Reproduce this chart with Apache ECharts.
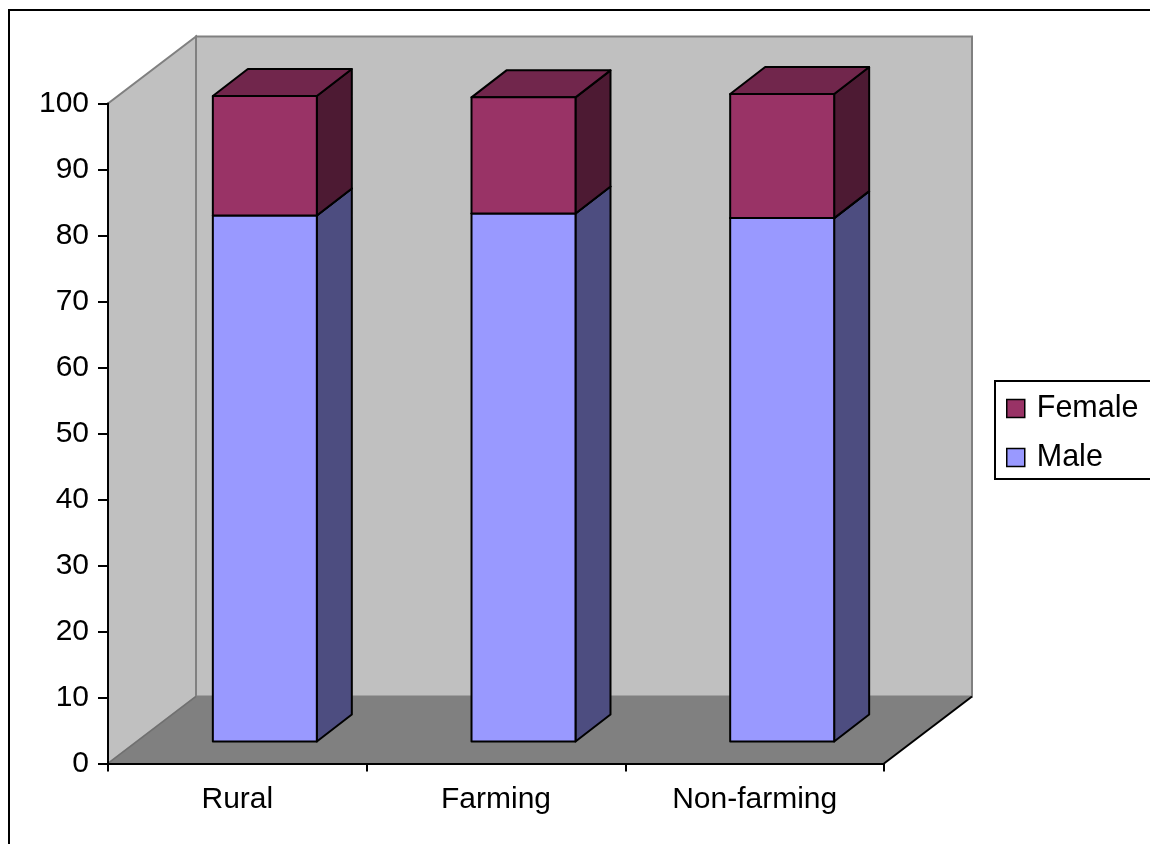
<!DOCTYPE html>
<html>
<head>
<meta charset="utf-8">
<script src="https://cdn.jsdelivr.net/npm/echarts@6/dist/echarts.min.js"></script>
<style>
  html, body { margin: 0; padding: 0; background: #fff; }
  #chart { width: 1150px; height: 844px; }
</style>
</head>
<body>
<div id="chart"></div>
<script>
// Share of male and female members by area type (%)
const CATEGORIES = ['Rural', 'Farming', 'Non-farming'];
const MALE = [79.7, 80.0, 79.3];
const FEMALE = [18.1, 17.6, 18.8];
const Y_MIN = 0, Y_MAX = 100, Y_STEP = 10;

const FONT = "'Liberation Sans', Arial, sans-serif";

// pseudo-3D geometry (pixel offsets of the depth direction)
const WALL_DEPTH = [88, -67];
const BAR_FRONT = [27.5, -22];
const BAR_DEPTH = [35, -27];
const BAR_RATIO = 0.402;

const MALE_COLORS = { front: '#9999FF', side: '#4D4D80', top: '#7373BF' };
const FEMALE_COLORS = { front: '#993366', side: '#4D1A33', top: '#71264C' };

// back wall, side wall and floor of the box
function renderWalls(params, api) {
  const n = CATEGORIES.length;
  const band = api.size([1, 0])[0];
  const xl = api.coord([0, Y_MIN])[0] - band / 2;
  const xr = api.coord([n - 1, Y_MIN])[0] + band / 2;
  const y0 = api.coord([0, Y_MIN])[1];
  const yT = api.coord([0, Y_MAX])[1];
  const dx = WALL_DEPTH[0], dy = WALL_DEPTH[1];
  const wallStroke = { stroke: '#808080', lineWidth: 2 };
  return {
    type: 'group',
    children: [
      {
        type: 'polygon',
        shape: { points: [[xl + dx, y0 + dy], [xr + dx, y0 + dy], [xr + dx, yT + dy], [xl + dx, yT + dy]] },
        style: Object.assign({ fill: '#C0C0C0' }, wallStroke)
      },
      {
        type: 'polygon',
        shape: { points: [[xl, y0], [xl + dx, y0 + dy], [xl + dx, yT + dy], [xl, yT]] },
        style: Object.assign({ fill: '#C0C0C0' }, wallStroke)
      },
      {
        type: 'polygon',
        shape: { points: [[xl, y0], [xr, y0], [xr + dx, y0 + dy], [xl + dx, y0 + dy]] },
        style: { fill: '#808080' }
      },
      {
        type: 'line',
        shape: { x1: xl, y1: y0, x2: xl + dx, y2: y0 + dy },
        style: { stroke: '#707070', lineWidth: 1.5 }
      },
      {
        type: 'line',
        shape: { x1: xr, y1: y0, x2: xr + dx, y2: y0 + dy },
        style: { stroke: '#000', lineWidth: 2 }
      }
    ]
  };
}

// one stacked block: front face, right side and top
function blockRenderer(colors) {
  return function (params, api) {
    const i = api.value(0), lo = api.value(1), hi = api.value(2);
    const band = api.size([1, 0])[0];
    const w = band * BAR_RATIO;
    const pLo = api.coord([i, lo]);
    const pHi = api.coord([i, hi]);
    const x0 = pLo[0] - w / 2 + BAR_FRONT[0];
    const x1 = x0 + w;
    const yb = pLo[1] + BAR_FRONT[1];
    const yt = pHi[1] + BAR_FRONT[1];
    const ddx = BAR_DEPTH[0], ddy = BAR_DEPTH[1];
    const edge = { stroke: '#000', lineWidth: 2, lineJoin: 'round' };
    return {
      type: 'group',
      children: [
        {
          type: 'polygon',
          shape: { points: [[x1, yb], [x1 + ddx, yb + ddy], [x1 + ddx, yt + ddy], [x1, yt]] },
          style: Object.assign({ fill: colors.side }, edge)
        },
        {
          type: 'polygon',
          shape: { points: [[x0, yt], [x1, yt], [x1 + ddx, yt + ddy], [x0 + ddx, yt + ddy]] },
          style: Object.assign({ fill: colors.top }, edge)
        },
        {
          type: 'rect',
          shape: { x: x0, y: yt, width: w, height: yb - yt },
          style: Object.assign({ fill: colors.front }, edge)
        }
      ]
    };
  };
}

const maleData = MALE.map((v, i) => [i, 0, v]);
const femaleData = FEMALE.map((v, i) => [i, MALE[i], MALE[i] + v]);

const chart = echarts.init(document.getElementById('chart'), null, { renderer: 'canvas' });

chart.setOption({
  animation: false,
  backgroundColor: '#fff',
  graphic: [{
    type: 'rect',
    shape: { x: 9, y: 10, width: 1160, height: 860 },
    style: { fill: 'none', stroke: '#000', lineWidth: 2 },
    silent: true,
    z: 100
  }],
  grid: { left: 108, right: 266, top: 103.5, bottom: 80.5, containLabel: false },
  legend: {
    data: ['Female', 'Male'],
    orient: 'vertical',
    left: 995,
    top: 381,
    icon: 'rect',
    itemWidth: 18,
    itemHeight: 18,
    itemGap: 18,
    padding: [12, 40, 6, 11],
    borderColor: '#000',
    borderWidth: 2,
    selectedMode: false,
    itemStyle: { borderColor: '#000', borderWidth: 1.5 },
    textStyle: { fontFamily: FONT, fontSize: 30.5, color: '#000', padding: [0, 0, 0, 7] }
  },
  xAxis: {
    type: 'category',
    data: CATEGORIES,
    boundaryGap: true,
    z: 10,
    axisLine: { lineStyle: { color: '#000', width: 2 } },
    axisTick: { show: true, length: 8, lineStyle: { color: '#000', width: 2 } },
    axisLabel: { fontFamily: FONT, fontSize: 30, color: '#000', margin: 21 },
    splitLine: { show: false }
  },
  yAxis: {
    type: 'value',
    min: Y_MIN,
    max: Y_MAX,
    interval: Y_STEP,
    z: 10,
    axisLine: { show: true, lineStyle: { color: '#000', width: 2 } },
    axisTick: { show: true, length: 10, lineStyle: { color: '#000', width: 2 } },
    axisLabel: { fontFamily: FONT, fontSize: 30, color: '#000', margin: 19 },
    splitLine: { show: false }
  },
  series: [
    {
      type: 'custom',
      name: 'walls',
      renderItem: renderWalls,
      data: [[0, 0]],
      encode: { x: 0, y: 1 },
      clip: false,
      silent: true,
      z: 1
    },
    {
      type: 'custom',
      name: 'Male',
      renderItem: blockRenderer(MALE_COLORS),
      data: maleData,
      encode: { x: 0, y: [1, 2] },
      itemStyle: { color: MALE_COLORS.front },
      clip: false,
      z: 2
    },
    {
      type: 'custom',
      name: 'Female',
      renderItem: blockRenderer(FEMALE_COLORS),
      data: femaleData,
      encode: { x: 0, y: [1, 2] },
      itemStyle: { color: FEMALE_COLORS.front },
      clip: false,
      z: 3
    }
  ]
});
</script>
</body>
</html>
